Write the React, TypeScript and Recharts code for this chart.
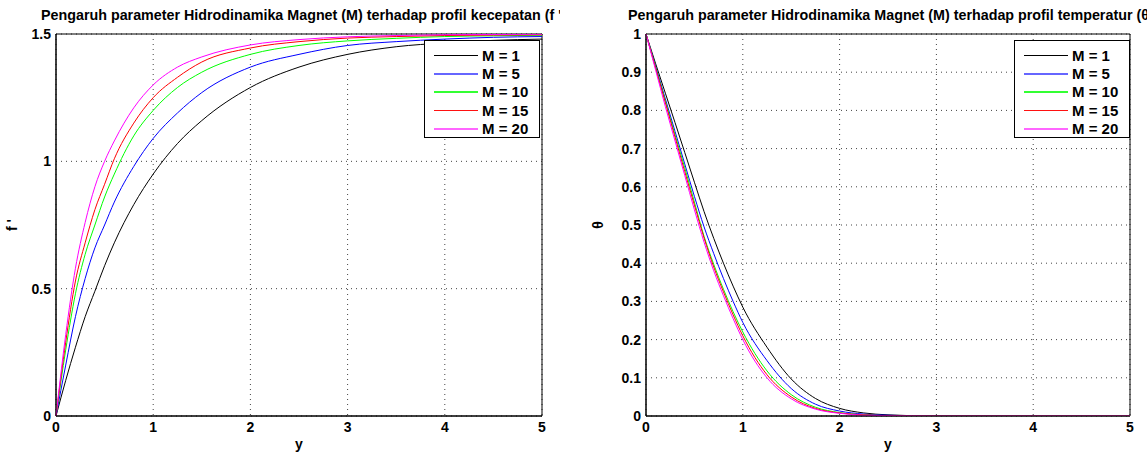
import { LineChart, Line, XAxis, YAxis, CartesianGrid, ReferenceArea } from "recharts";

const FONT = '"Liberation Sans", Arial, Helvetica, sans-serif';

// left panel: velocity profile f'(y)
const yVel = [0, 0.1, 0.2, 0.3, 0.4, 0.5, 0.6, 0.8, 1, 1.25, 1.5, 2, 2.5, 3, 3.5, 4, 4.5, 5];
const velM1 = [0, 0.14, 0.27, 0.39, 0.49, 0.59, 0.68, 0.83, 0.95, 1.07, 1.16, 1.29, 1.37, 1.42, 1.45, 1.465, 1.475, 1.48];
const velM5 = [0, 0.2, 0.39, 0.54, 0.66, 0.75, 0.84, 0.98, 1.09, 1.19, 1.27, 1.37, 1.42, 1.455, 1.47, 1.48, 1.487, 1.49];
const velM10 = [0, 0.26, 0.48, 0.635, 0.75, 0.86, 0.95, 1.1, 1.2, 1.29, 1.35, 1.42, 1.455, 1.473, 1.483, 1.49, 1.493, 1.495];
const velM15 = [0, 0.29, 0.53, 0.68, 0.81, 0.91, 1.01, 1.15, 1.25, 1.33, 1.39, 1.445, 1.47, 1.484, 1.49, 1.494, 1.496, 1.497];
const velM20 = [0, 0.32, 0.58, 0.76, 0.9, 1.0, 1.08, 1.21, 1.3, 1.37, 1.41, 1.457, 1.478, 1.489, 1.494, 1.497, 1.498, 1.499];

// right panel: temperature profile theta(y)
const yTemp = [0, 0.1, 0.2, 0.3, 0.4, 0.5, 0.6, 0.7, 0.8, 0.9, 1, 1.25, 1.5, 1.75, 2, 2.25, 2.5, 3, 3.5, 4, 4.5, 5];
const tempM1 = [1, 0.922, 0.845, 0.768, 0.69, 0.612, 0.535, 0.465, 0.4, 0.34, 0.285, 0.18, 0.097, 0.046, 0.02, 0.008, 0.003, 0, 0, 0, 0, 0];
const tempM5 = [1, 0.915, 0.83, 0.745, 0.66, 0.575, 0.495, 0.425, 0.36, 0.3, 0.245, 0.145, 0.072, 0.031, 0.013, 0.005, 0.002, 0, 0, 0, 0, 0];
const tempM10 = [1, 0.912, 0.824, 0.736, 0.65, 0.56, 0.47, 0.397, 0.332, 0.273, 0.22, 0.118, 0.056, 0.023, 0.009, 0.003, 0.001, 0, 0, 0, 0, 0];
const tempM15 = [1, 0.91, 0.82, 0.73, 0.64, 0.552, 0.466, 0.39, 0.325, 0.265, 0.21, 0.108, 0.05, 0.02, 0.008, 0.003, 0.001, 0, 0, 0, 0, 0];
const tempM20 = [1, 0.905, 0.81, 0.72, 0.63, 0.54, 0.455, 0.38, 0.315, 0.255, 0.2, 0.1, 0.045, 0.018, 0.007, 0.002, 0.001, 0, 0, 0, 0, 0];

const seriesNames = ["M = 1", "M = 5", "M = 10", "M = 15", "M = 20"];
const seriesColors = ["#000000", "#0000ff", "#00ff00", "#ff0000", "#ff00ff"];
const legendColors = ["#000000", "#6666ff", "#33ff33", "#ff1111", "#ff66ff"];
const legendThick = [1, 2, 2, 1, 2];
const seriesKeys = ["m1", "m5", "m10", "m15", "m20"];

const xTicks = [0, 1, 2, 3, 4, 5];
const velTicks = [0, 0.5, 1, 1.5];
const tempTicks = [0, 0.1, 0.2, 0.3, 0.4, 0.5, 0.6, 0.7, 0.8, 0.9, 1];

const velData = yVel.map((y, i) => ({
  y, m1: velM1[i], m5: velM5[i], m10: velM10[i], m15: velM15[i], m20: velM20[i],
}));
const tempData = yTemp.map((y, i) => ({
  y, m1: tempM1[i], m5: tempM5[i], m10: tempM10[i], m15: tempM15[i], m20: tempM20[i],
}));

const tickStyle = { fill: "#000", fontSize: 14, fontWeight: "bold", fontFamily: FONT };

function LegendBox({ left }: { left: number }) {
  return (
    <div
      style={{
        position: "absolute", left, top: 40, width: 114, height: 96,
        border: "1px solid #000", background: "#fff", fontFamily: FONT,
      }}
    >
      {seriesNames.map((name, i) => (
        <div key={name} style={{ position: "absolute", left: 0, top: Math.round(5 + i * 18.2), height: 18, width: "100%" }}>
          <div style={{ position: "absolute", left: 9, top: 9, width: 44, height: legendThick[i], background: legendColors[i] }} />
          <div style={{ position: "absolute", left: 57, top: 0, fontSize: 15, fontWeight: "bold", lineHeight: "19px" }}>
            {name}
          </div>
        </div>
      ))}
    </div>
  );
}

function yLabel(text: string, x: number) {
  return (props: any) => {
    const vb = props.viewBox || {};
    const cy = (vb.y ?? 34) + (vb.height ?? 382) / 2;
    return (
      <text
        x={x} y={cy} transform={`rotate(-90, ${x}, ${cy})`} textAnchor="middle"
        fontSize={14} fontWeight="bold" fontFamily={FONT} fill="#000"
      >
        {text}
      </text>
    );
  };
}

function Panel({ data, yMax, yTicks, yAxisWidth, rightMargin, ylabel, ylabelX }: any) {
  return (
    <LineChart
      width={yAxisWidth === 56 ? 560 : 567}
      height={458}
      data={data}
      margin={{ top: 34, right: rightMargin, bottom: 0, left: 0 }}
    >
      <CartesianGrid stroke="#444" strokeDasharray="1 4" />
      <XAxis
        dataKey="y" type="number" domain={[0, 5]} ticks={xTicks} height={42}
        tickLine={false} tickSize={4} tickMargin={2} axisLine={{ stroke: "#000" }} tick={tickStyle}
        label={{ value: "y", position: "insideBottom", offset: 9, fill: "#000", fontSize: 14, fontWeight: "bold", fontFamily: FONT }}
      />
      <YAxis
        type="number" domain={[0, yMax]} ticks={yTicks} width={yAxisWidth} allowDataOverflow
        tickLine={false} tickSize={3} tickMargin={2} axisLine={{ stroke: "#000" }} tick={tickStyle}
        label={yLabel(ylabel, ylabelX)}
      />
      <ReferenceArea x1={0} x2={5} y1={0} y2={yMax} fill="none" stroke="#000" strokeWidth={1} />
      {seriesKeys.map((k, i) => (
        <Line
          key={k} dataKey={k} name={seriesNames[i]} type="monotone" stroke={seriesColors[i]}
          strokeWidth={1} dot={false} isAnimationActive={false}
        />
      ))}
    </LineChart>
  );
}

export default function App() {
  // titles run past their axes in the original figure and are cut off there
  const titleStyle: any = {
    position: "absolute", top: 7, height: 20, overflow: "hidden", whiteSpace: "nowrap",
    fontFamily: FONT, fontSize: 14.3, fontWeight: "bold", color: "#000",
  };
  return (
    <div style={{ position: "absolute", left: 0, top: 0, width: 1147, height: 458, overflow: "hidden", background: "#fff" }}>
      <div style={{ position: "absolute", left: 0, top: 0 }}>
        <Panel data={velData} yMax={1.5} yTicks={velTicks} yAxisWidth={56} rightMargin={18} ylabel="f '" ylabelX={17} />
      </div>
      <div style={{ position: "absolute", left: 580, top: 0 }}>
        <Panel data={tempData} yMax={1} yTicks={tempTicks} yAxisWidth={66} rightMargin={17} ylabel="θ" ylabelX={23} />
      </div>
      <div style={{ ...titleStyle, left: 41, width: 519 }}>
        Pengaruh parameter Hidrodinamika Magnet (M) terhadap profil kecepatan (f ')
      </div>
      <div style={{ ...titleStyle, left: 628, width: 519 }}>
        Pengaruh parameter Hidrodinamika Magnet (M) terhadap profil temperatur (θ)
      </div>
      <LegendBox left={424} />
      <LegendBox left={1014} />
    </div>
  );
}
